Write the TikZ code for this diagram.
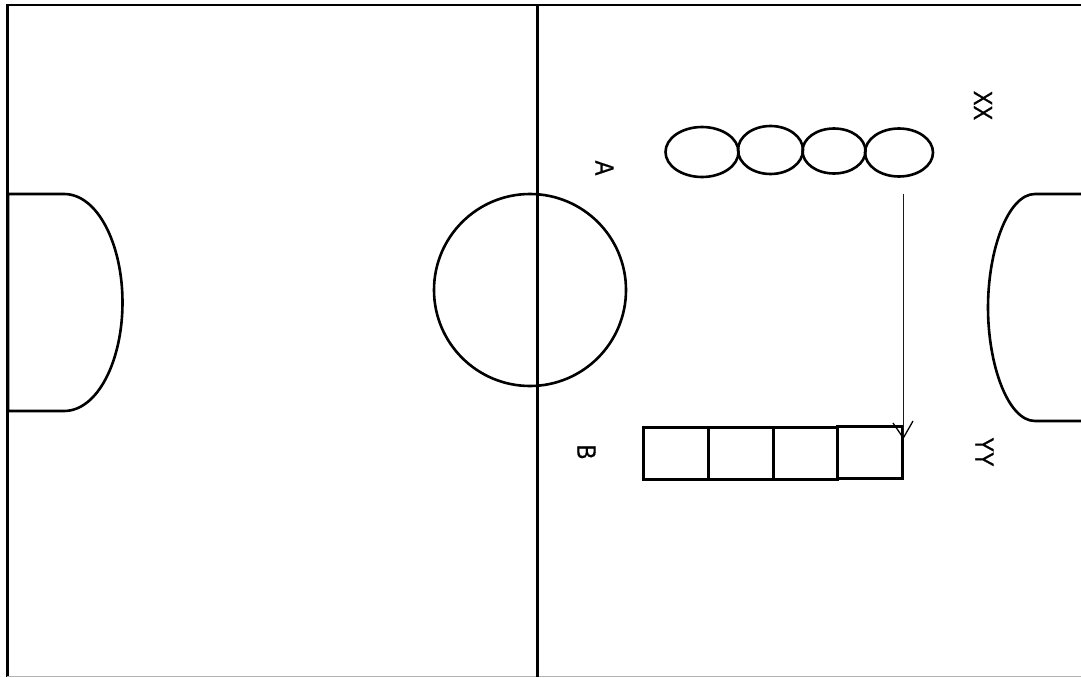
\documentclass[tikz,border=0pt]{standalone}
\usepackage{fontspec}
\setmainfont{Liberation Sans}
\usetikzlibrary{shapes.geometric}
\tikzset{
  pline/.style={draw=black,line width=2.6pt},
  frameline/.style={draw=black,line width=2pt},
  cline/.style={draw=black,line width=1.3pt},
  lab/.style={font=\fontsize{22}{24}\selectfont\addfontfeature{FakeBold=0.6},rotate=-90,inner sep=0pt},
}
\newcommand{\tall}[1]{\scalebox{1}[1.2]{#1}}
\begin{document}
\begin{tikzpicture}[x=1pt,y=-1pt]
\useasboundingbox (0,0) rectangle (1081,677);
\fill[white] (0,0) rectangle (1081,677);
\draw[frameline] (1081,5.5) -- (7.5,5.5);
\draw[pline] (7.5,4.5) -- (7.5,677);
\draw[draw=black!30,line width=1.5pt] (7,676.3) -- (1081,676.3);
\draw[pline] (537.5,5.5) -- (537.5,677);
\draw[pline] (530,290) circle (96);
\draw[pline] (8,194) -- (64,194) .. controls (98,194) and (122.5,245) .. (122.5,302.5) .. controls (122.5,360) and (98,411) .. (64,411) -- (8,411) -- cycle;
\draw[pline] (1081,194) -- (1035,194) .. controls (1008,194) and (988,250) .. (988,307.5) .. controls (988,365) and (1008,421) .. (1035,421) -- (1081,421);
\draw[pline] (702,152) ellipse (36.5 and 25);
\draw[pline] (770.5,150) ellipse (32.5 and 24);
\draw[pline] (834,151) ellipse (31.5 and 22.5);
\draw[pline] (899,152.5) ellipse (34 and 24);
\draw[pline] (643.5,427.5) rectangle (708.5,479.5);
\draw[pline] (708.5,427.5) rectangle (773.5,479.5);
\draw[pline] (773.5,427.5) rectangle (837.5,479.5);
\draw[pline] (837.5,426.5) rectangle (902.5,478.5);
\coordinate (arrowstart) at (903.3,194);
\coordinate (arrowend) at (903.3,438);
\draw[draw=black!90,line width=1.2pt] (arrowstart) -- (arrowend);
\draw[cline] (893,423) -- (arrowend) -- (913,421);
\node[lab] (labA) at (604.5,168) {\tall{A}};
\node[lab] (labB) at (586.5,452) {\tall{B}};
\node[lab] (labXX) at (983,105.5) {\tall{XX}};
\node[lab] (labYY) at (984.5,452) {\tall{YY}};
\end{tikzpicture}
\end{document}
